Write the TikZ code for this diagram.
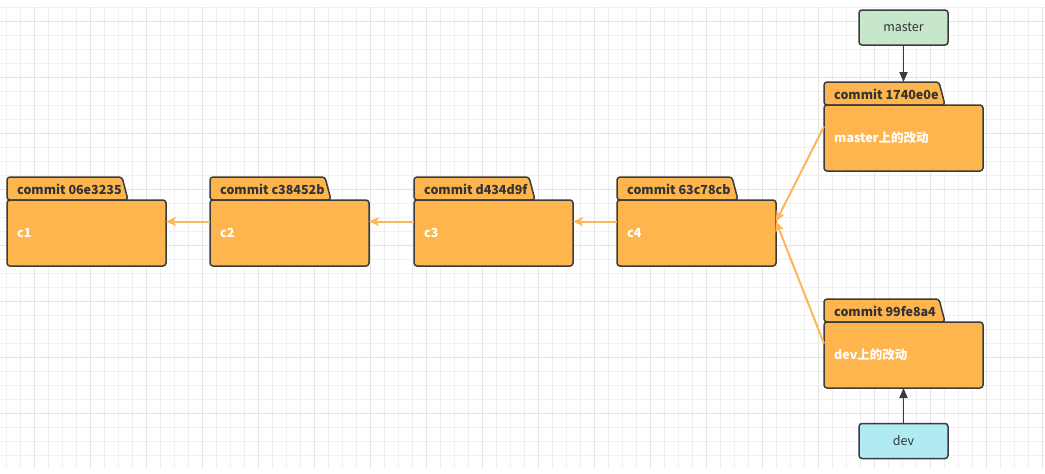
\documentclass[tikz,border=0pt]{standalone}
\usepackage{fontspec}
\setmainfont{Noto Sans CJK SC}
\usetikzlibrary{arrows.meta}
\definecolor{folderfill}{HTML}{FFB54D}
\definecolor{arroworange}{HTML}{FFB55A}
\definecolor{strokegray}{HTML}{3A3B3D}
\definecolor{mastergreen}{HTML}{C6E7CB}
\definecolor{devcyan}{HTML}{B1EBF2}
\definecolor{gridminor}{HTML}{F0F0F0}
\definecolor{gridmajor}{HTML}{E4E4E4}
\definecolor{textdark}{HTML}{333333}
\tikzset{
  minorline/.style={draw=gridminor, line width=1pt},
  majorline/.style={draw=gridmajor, line width=1pt},
  foldershape/.style={draw=strokegray, fill=folderfill, line width=1.5pt, rounded corners=3pt, line join=round},
  foldertitle/.style={anchor=west, inner sep=0pt, text=textdark, font=\bfseries\fontsize{12.5}{14}\selectfont},
  folderbody/.style={anchor=west, inner sep=0pt, text=white, font=\bfseries\fontsize{12.5}{14}\selectfont},
  folderanchor/.style={anchor=north west, minimum width=159pt, minimum height=89pt, inner sep=0pt, outer sep=0pt},
  branchbox/.style={draw=strokegray, line width=1.5pt, rounded corners=3pt, minimum width=89pt, minimum height=35pt, inner sep=0pt, text=textdark, font=\fontsize{12.5}{14}\selectfont},
  parentarrow/.style={draw=arroworange, line width=2pt, -{Stealth[length=10pt, width=9pt, inset=2.5pt]}},
  refarrow/.style={draw=strokegray, line width=1.8pt, -{Triangle[length=10pt, width=8pt]}}
}
\newcommand{\commitfolder}[5]{%
  \path[foldershape] (#2,#3+23) -- (#2,#3) -- (#2+115,#3) -- (#2+121,#3+23) -- cycle;
  \path[foldershape] (#2,#3+23) rectangle (#2+159,#3+89);
  \node[folderanchor] (#1) at (#2,#3) {};
  \node[foldertitle] at (#2+10,#3+12) {#4};
  \node[folderbody] at (#2+10,#3+56) {#5};
}
\begin{document}
\begin{tikzpicture}[x=1pt, y=-1pt]
  \useasboundingbox (0,0) rectangle (1045,474);
  \fill[white] (0,0) rectangle (1045,474);
  % grid
  \foreach \i in {0,...,74} \draw[minorline] ({6+14*\i},7) -- ({6+14*\i},468);
  \foreach \j in {0,...,32} \draw[minorline] (0,{7+14*\j}) -- (1045,{7+14*\j});
  \foreach \i in {2,6,...,74} \draw[majorline] ({6+14*\i},7) -- ({6+14*\i},468);
  \foreach \j in {1,5,...,29} \draw[majorline] (0,{7+14*\j}) -- (1045,{7+14*\j});
  % commits
  \commitfolder{c1}{7}{177}{commit 06e3235}{c1}
  \commitfolder{c2}{210}{177}{commit c38452b}{c2}
  \commitfolder{c3}{414}{177}{commit d434d9f}{c3}
  \commitfolder{c4}{617}{177}{commit 63c78cb}{c4}
  \commitfolder{cm}{824}{82}{commit 1740e0e}{master上的改动}
  \commitfolder{cd}{824}{299}{commit 99fe8a4}{dev上的改动}
  % branches
  \node[branchbox, fill=mastergreen] (master) at (903.5,27.5) {master};
  \node[branchbox, fill=devcyan] (dev) at (903.5,441) {dev};
  % arrows
  \draw[parentarrow] (c2.west) -- (c1.east);
  \draw[parentarrow] (c3.west) -- (c2.east);
  \draw[parentarrow] (c4.west) -- (c3.east);
  \draw[parentarrow] (cm.west) -- (c4.east);
  \draw[parentarrow] (cd.west) -- (c4.east);
  \draw[refarrow] (master.south) -- (cm.north -| master.south);
  \draw[refarrow] (dev.north) -- (cd.south -| dev.north);
\end{tikzpicture}
\end{document}
